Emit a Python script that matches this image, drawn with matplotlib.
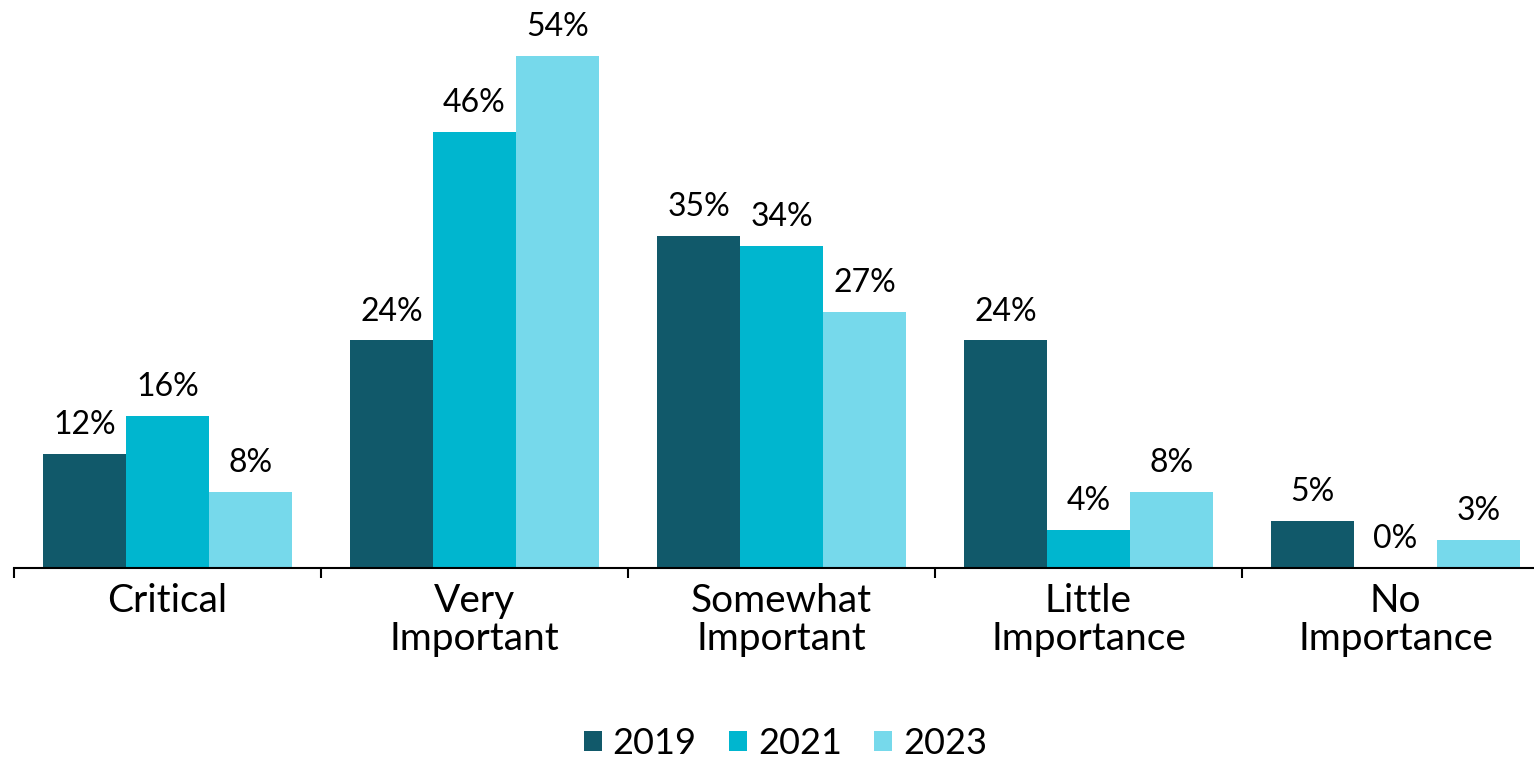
import numpy as np
import matplotlib.pyplot as plt

plt.rcParams['font.family'] = ['Lato', 'DejaVu Sans']

categories = ['Critical', 'Very\nImportant', 'Somewhat\nImportant', 'Little\nImportance', 'No\nImportance']
years = ['2019', '2021', '2023']
v2019 = [12, 24, 35, 24, 5]
v2021 = [16, 46, 34, 4, 0]
v2023 = [8, 54, 27, 8, 3]
colors = ['#11596A', '#00B6CF', '#76D9EB']

fig = plt.figure(figsize=(15.34, 7.6), dpi=100)
ax = fig.add_axes([14/1534, 192/760, 1535/1534, 550/760])

x = np.arange(len(categories))
w = 0.27
for i, (vals, yr, c) in enumerate(zip([v2019, v2021, v2023], years, colors)):
    bars = ax.bar(x + (i - 1) * w, vals, w, color=c, label=yr)
    for b, v in zip(bars, vals):
        ax.annotate(f'{v}%', (b.get_x() + b.get_width() / 2, v),
                    xytext=(0, 10), textcoords='offset points',
                    ha='center', va='bottom', fontsize=23)

ax.set_xlim(-0.5, len(categories) - 0.5)
ax.set_ylim(0, 58)
ax.set_yticks([])
for s in ['top', 'right', 'left']:
    ax.spines[s].set_visible(False)
ax.spines['bottom'].set_linewidth(1.5)

ax.set_xticks(x)
ax.set_xticklabels(categories, fontsize=28, linespacing=1.05)
ax.tick_params(axis='x', which='major', length=0, pad=11)
ax.set_xticks(np.arange(-0.5, len(categories)), minor=True)
ax.tick_params(axis='x', which='minor', length=7, width=1.5)

fig.legend(loc='center', bbox_to_anchor=(0.512, 0.022), ncol=3, frameon=False,
           fontsize=26, handlelength=0.5, handleheight=0.5, handletextpad=0.3,
           columnspacing=0.9, borderpad=0.1)

fig.savefig('out.png', dpi=100)
